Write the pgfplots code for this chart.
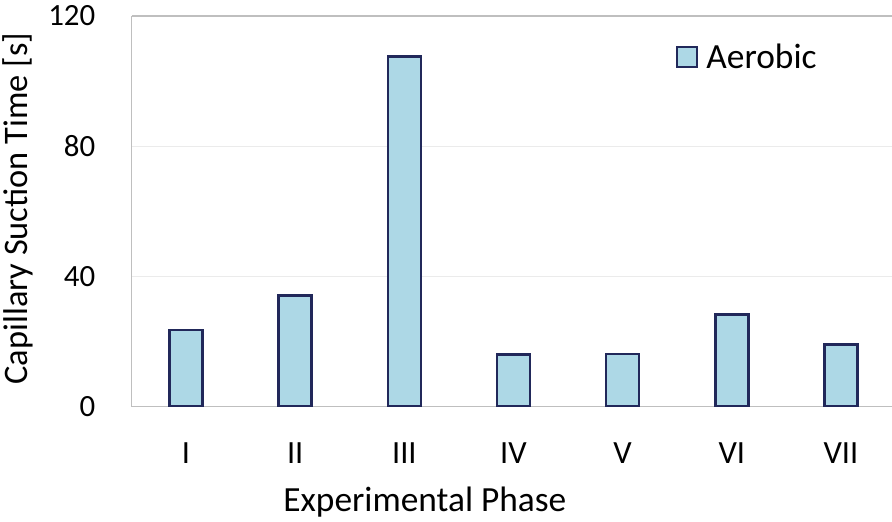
\documentclass[border=0pt]{standalone}
\usepackage{fontspec}
\setmainfont{Carlito}
\usepackage{pgfplots}
\pgfplotsset{compat=1.18}
\definecolor{barfill}{RGB}{173,216,230}
\definecolor{baredge}{RGB}{33,40,90}
\definecolor{axisgray}{RGB}{191,191,191}
\definecolor{gridgray}{RGB}{235,235,235}
\begin{document}
\begin{tikzpicture}
\path[use as bounding box] (0,0) rectangle (892bp,522bp);
\begin{axis}[
  at={(131.5bp,115.3bp)}, anchor=south west,
  scale only axis, width=764bp, height=390.7bp,
  xmin=-0.5, xmax=6.5, ymin=0, ymax=120,
  axis x line*=bottom, axis y line*=left,
  axis line style={axisgray, line width=1.5bp, -},
  major tick length=0pt,
  xtick={0,1,2,3,4,5,6},
  xticklabels={I,II,III,IV,V,VI,VII},
  ytick={0,40,80},
  extra y ticks={120},
  extra y tick style={grid style={axisgray, line width=1.5bp}},
  ymajorgrids,
  grid style={gridgray, line width=1bp},
  /pgf/number format/assume math mode=true,
  yticklabel style={font=\fontsize{31}{36}\selectfont, anchor=east, inner sep=0pt, xshift=-36bp},
  xticklabel style={font=\fontsize{32.5}{38}\selectfont, anchor=center, inner sep=0pt, yshift=-46bp},
  xlabel={Experimental Phase},
  ylabel={Capillary Suction Time [s]},
  every axis x label/.style={at={(rel axis cs:0.384,-0.267)}, anchor=base, inner sep=0pt, font=\fontsize{35.5}{42}\selectfont},
  every axis y label/.style={at={(rel axis cs:-0.1355,0.507)}, rotate=90, anchor=base, inner sep=0pt, font=\fontsize{34.5}{40}\selectfont},
  ybar, bar width=33bp,
  legend style={at={(rel axis cs:0.713,0.895)}, anchor=west, draw=none, fill=none, inner sep=0pt, font=\fontsize{35.5}{42}\selectfont,
    /tikz/every odd column/.style={column sep=6bp}},
  legend image code/.code={\draw[#1, line width=2bp] (0bp,-10bp) rectangle (20bp,10bp);},
]
\addplot[fill=barfill, draw=baredge, line width=2.5bp] coordinates {(0,23.5) (1,34.2) (2,107.6) (3,16.0) (4,16.2) (5,28.3) (6,19.1)};
\addlegendentry{Aerobic}
\end{axis}
\end{tikzpicture}
\end{document}
